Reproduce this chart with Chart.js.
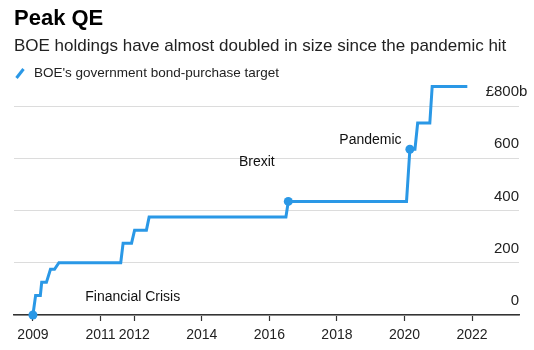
<!DOCTYPE html>
<html>
<head>
<meta charset="utf-8">
<script src="https://cdn.jsdelivr.net/npm/chart.js@4"></script>
<style>
  body { margin: 0; background: #fff; font-family: "Liberation Sans", Arial, sans-serif; }
  #wrap { position: relative; width: 534px; height: 350px; }
  #c { position: absolute; left: 0; top: 0; }
  .t { position: absolute; left: 14px; white-space: nowrap; color: #000; }
  #title { top: 5px; font-size: 22px; font-weight: bold; }
  #sub { top: 36px; font-size: 17px; color: #222; }
  #leg { top: 65px; left: 34px; font-size: 13.5px; color: #222; }
  #icon { position: absolute; left: 15px; top: 68px; width: 10px; height: 11px; }
</style>
</head>
<body>
<div id="wrap">
  <canvas id="c" width="534" height="350"></canvas>
  <div class="t" id="title">Peak QE</div>
  <div class="t" id="sub">BOE holdings have almost doubled in size since the pandemic hit</div>
  <svg id="icon" viewBox="0 0 10 11"><line x1="1.5" y1="10" x2="8.5" y2="1" stroke="#2a98e6" stroke-width="3"/></svg>
  <div class="t" id="leg">BOE's government bond-purchase target</div>
</div>
<script>
// decimal years
var dates = [2009.00, 2009.08, 2009.22, 2009.26, 2009.40, 2009.52, 2009.64, 2009.77,
  2011.60, 2011.67, 2011.92, 2012.01, 2012.36, 2012.44, 2016.49, 2016.56,
  2020.06, 2020.16, 2020.31, 2020.39, 2020.75, 2020.82, 2021.86];
var target = [0, 75, 75, 125, 125, 175, 175, 200,
  200, 275, 275, 325, 325, 375, 375, 435,
  435, 635, 635, 735, 735, 875, 875];
var xTicks = [2009, 2011, 2012, 2014, 2016, 2018, 2020, 2022];
var yTicks = [0, 200, 400, 600, 800];
var notes = [
  { text: "Financial Crisis", x: 2010.55, y: 70 },
  { text: "Brexit", x: 2015.1, y: 585 },
  { text: "Pandemic", x: 2018.07, y: 670 }
];
var dotIdx = [0, 15, 17];

var blue = '#2a98e6';
var pts = dates.map(function (d, i) { return { x: d, y: target[i] }; });

var overlay = {
  id: 'overlay',
  afterDraw: function (chart) {
    var ctx = chart.ctx, xs = chart.scales.x, ys = chart.scales.y;
    ctx.save();
    ctx.textBaseline = 'middle';
    ctx.font = '15px "Liberation Sans", Arial, sans-serif';
    ctx.fillStyle = '#222';
    yTicks.forEach(function (v) {
      var py = ys.getPixelForValue(v) - 14;
      ctx.textAlign = 'right';
      ctx.fillText(v === 800 ? '£800' : String(v), 519, py);
      if (v === 800) { ctx.textAlign = 'left'; ctx.fillText('b', 519, py); }
    });
    ctx.font = '14px "Liberation Sans", Arial, sans-serif';
    ctx.textAlign = 'left';
    ctx.fillStyle = '#111';
    notes.forEach(function (n) {
      ctx.fillText(n.text, xs.getPixelForValue(n.x), ys.getPixelForValue(n.y));
    });
    ctx.restore();
  }
};

new Chart(document.getElementById('c'), {
  type: 'line',
  data: {
    datasets: [{
      data: pts,
      borderColor: blue,
      backgroundColor: blue,
      borderWidth: 3,
      pointRadius: function (c) { return dotIdx.indexOf(c.dataIndex) >= 0 ? 4.5 : 0; },
      pointBorderWidth: 0,
      tension: 0,
      clip: false
    }]
  },
  options: {
    responsive: false,
    animation: false,
    layout: { padding: { left: 14, right: 15, top: 80, bottom: 0 } },
    plugins: { legend: { display: false }, tooltip: { enabled: false } },
    scales: {
      x: {
        type: 'linear',
        min: 2008.44,
        max: 2023.39,
        afterBuildTicks: function (s) { s.ticks = xTicks.map(function (v) { return { value: v }; }); },
        afterFit: function (s) { s.height = 35; },
        grid: { drawOnChartArea: false, drawTicks: true, tickLength: 6, color: '#333', tickWidth: 1.2 },
        border: { display: true, color: '#333', width: 1.5 },
        ticks: {
          color: '#222',
          padding: 6,
          maxRotation: 0,
          font: { size: 14, family: '"Liberation Sans", Arial, sans-serif' },
          callback: function (v) { return String(v); }
        }
      },
      y: {
        min: 0,
        max: 900,
        afterBuildTicks: function (s) { s.ticks = yTicks.map(function (v) { return { value: v }; }); },
        afterFit: function (s) { s.width = 0; },
        grid: { color: '#dcdcdc', lineWidth: 1, drawTicks: false },
        border: { display: false },
        ticks: { display: false }
      }
    }
  },
  plugins: [overlay]
});
</script>
</body>
</html>
